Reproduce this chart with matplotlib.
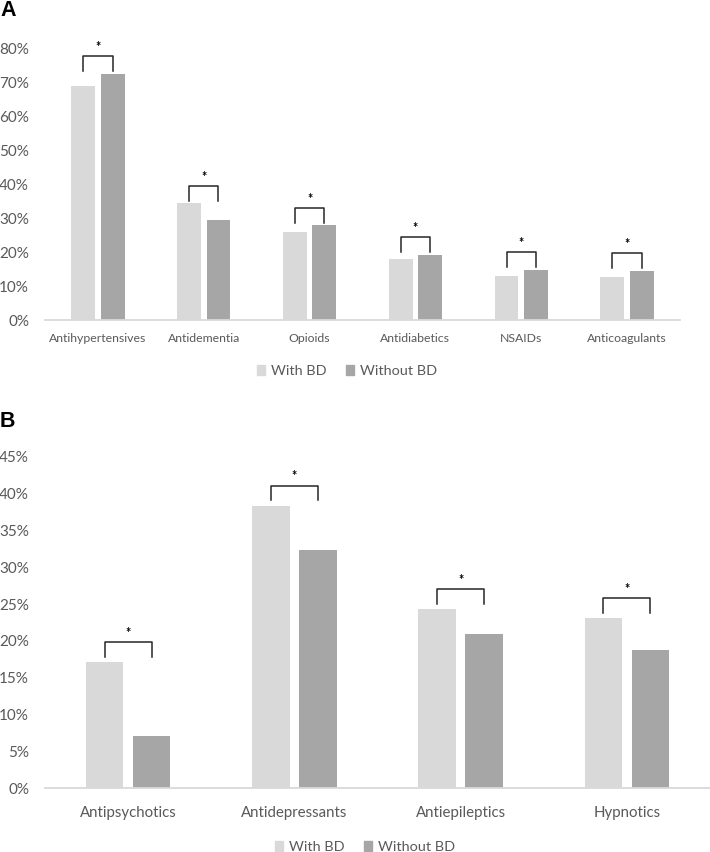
import matplotlib
matplotlib.use("Agg")
import matplotlib.pyplot as plt
import numpy as np
from matplotlib.patches import Patch

plt.rcParams["font.family"] = ["Lato", "DejaVu Sans"]

# panel A data (share of patients, %)
cats_a = ["Antihypertensives", "Antidementia", "Opioids", "Antidiabetics", "NSAIDs", "Anticoagulants"]
with_bd_a = [69.0, 34.4, 26.1, 17.9, 12.9, 12.7]
without_bd_a = [72.6, 29.6, 27.9, 19.2, 14.8, 14.6]

# panel B data
cats_b = ["Antipsychotics", "Antidepressants", "Antiepileptics", "Hypnotics"]
with_bd_b = [17.1, 38.4, 24.3, 23.1]
without_bd_b = [7.1, 32.4, 20.9, 18.7]

LIGHT = "#d9d9d9"
DARK = "#a6a6a6"
TXT = "#595959"

W, H = 710, 852
fig = plt.figure(figsize=(W / 100, H / 100), dpi=100)


def panel(rect, cats, v1, v2, ymax, ystep, off, width, top_pad, leg_len, star_pad, xfs, yfs, xpad):
    ax = fig.add_axes(rect)
    x = np.arange(len(cats))
    ax.bar(x - off, v1, width, color=LIGHT)
    ax.bar(x + off, v2, width, color=DARK)
    for i in range(len(cats)):
        top = max(v1[i], v2[i]) + top_pad
        ax.plot([x[i] - off, x[i] - off, x[i] + off, x[i] + off],
                [top - leg_len, top, top, top - leg_len], color="#262626", lw=1.1)
        ax.text(x[i], top + star_pad, "*", ha="center", va="center", fontsize=9,
                fontweight="bold", color="black")
    ax.set_xlim(-0.5, len(cats) - 0.5)
    ax.set_ylim(0, ymax)
    ticks = np.arange(0, ymax + 0.01, ystep)
    ax.set_yticks(ticks)
    ax.set_yticklabels([f"{int(t)}%" for t in ticks])
    ax.set_xticks(x)
    ax.set_xticklabels(cats)
    for s in ["top", "right", "left"]:
        ax.spines[s].set_visible(False)
    ax.spines["bottom"].set_color(LIGHT)
    ax.spines["bottom"].set_linewidth(1.3)
    ax.tick_params(axis="y", length=0, labelsize=yfs, labelcolor=TXT, pad=11.5)
    ax.tick_params(axis="x", length=0, labelsize=xfs, labelcolor=TXT, pad=xpad)
    return ax


def rect(l, r, t, b):
    return [l / W, 1 - b / H, (r - l) / W, (b - t) / H]


panel(rect(45, 680, 49, 320), cats_a, with_bd_a, without_bd_a, 80, 10,
      0.139, 0.225, 5.3, 4.5, 2.6, 8.8, 11, 9.5)
panel(rect(45, 710, 457, 788), cats_b, with_bd_b, without_bd_b, 45, 5,
      0.141, 0.225, 2.7, 2.0, 1.3, 10.8, 11, 13)

handles = [Patch(color=LIGHT, label="With BD"), Patch(color=DARK, label="Without BD")]
for xc, yc in [(347, 371), (365, 847)]:
    fig.legend(handles=handles, loc="center", bbox_to_anchor=(xc / W, 1 - yc / H),
               ncol=2, frameon=False, fontsize=10.4, labelcolor=TXT,
               handlelength=0.6, handleheight=0.7, handletextpad=0.4, columnspacing=1.3,
               borderpad=0.1)

fig.text(0 / W, 1 - 11 / H, "A", fontsize=15.5, fontweight="bold", va="center", ha="left",
         family=["Liberation Sans", "DejaVu Sans"])
fig.text(0 / W, 1 - 422 / H, "B", fontsize=15.5, fontweight="bold", va="center", ha="left",
         family=["Liberation Sans", "DejaVu Sans"])

fig.savefig("out.png", dpi=100, facecolor="white")
